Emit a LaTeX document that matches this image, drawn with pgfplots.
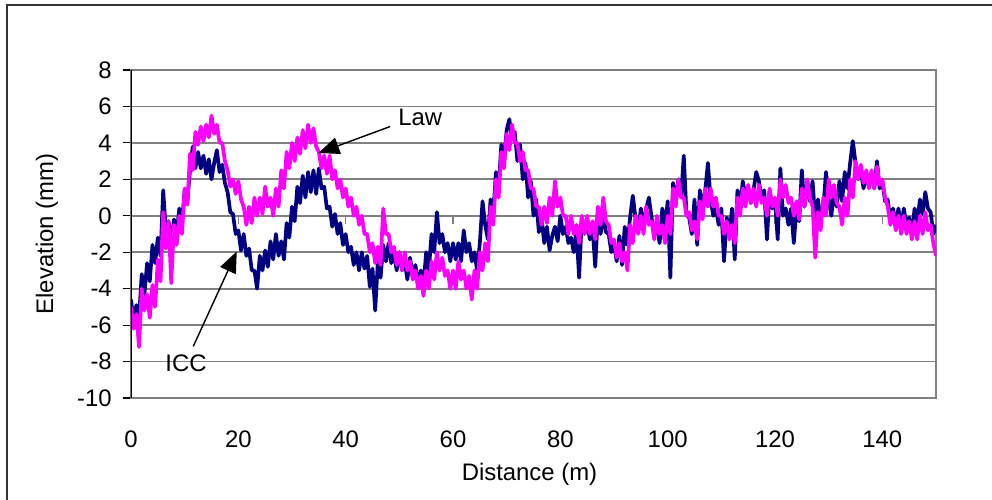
\documentclass[border=0pt]{standalone}
\usepackage{fontspec}
\setmainfont{Liberation Sans}
\usepackage{pgfplots}
\pgfplotsset{compat=1.18}
\usetikzlibrary{arrows.meta}
\definecolor{iccNavy}{HTML}{000080}
\definecolor{lawMag}{HTML}{FF00FF}
\definecolor{gridGray}{HTML}{808080}
\newcommand{\chfont}{\fontsize{13.6}{16}\selectfont}

\begin{document}
\begin{tikzpicture}
\useasboundingbox (-2.62,-2.02) rectangle (17.22,7.96);
\draw[black!80, line width=0.6pt] (-2.48,-3) rectangle (18,7.86);
\begin{axis}[
  width=16.1cm, height=6.56cm, scale only axis,
  xmin=0, xmax=150, ymin=-10, ymax=8,
  xtick={0,20,...,140}, ytick={-10,-8,...,8},
  xmajorgrids=false, ymajorgrids=true,
  grid style={gridGray, line width=1pt},
  axis line style={gridGray, line width=1pt},
  x tick style={draw=none},
  y tick style={black, line width=0.6pt},
  ytick pos=left, xtick pos=bottom,
  tick align=outside, major tick length=0.16cm,
  /pgf/number format/assume math mode=true,
  ticklabel style={font=\chfont},
  yticklabel style={xshift=-0.1cm},
  xticklabel style={yshift=-0.38cm},
  label style={font=\chfont},
  xlabel={Distance (m)}, ylabel={Elevation (mm)},
  xlabel style={at={(axis description cs:0.495,-0.2317)}, anchor=center},
  ylabel style={at={(axis description cs:-0.1043,0.5)}, anchor=center},
]
\draw[gridGray, line width=0.6pt]
  (axis cs:20,0) -- (axis cs:20,-0.45)
  (axis cs:40,0) -- (axis cs:40,-0.45)
  (axis cs:60,0) -- (axis cs:60,-0.45)
  (axis cs:80,0) -- (axis cs:80,-0.45)
  (axis cs:100,0) -- (axis cs:100,-0.45)
  (axis cs:120,0) -- (axis cs:120,-0.45)
  (axis cs:140,0) -- (axis cs:140,-0.45);
% ICC
\addplot[iccNavy, line width=2.1pt, line join=round] coordinates {
(0,-4.6)(0.5,-5.8)(1,-4.9)(1.5,-5.6)(2,-3.2)(2.5,-4.3)(3,-2.6)(3.5,-3.6)(4,-1.6)(4.5,-2.6)
(5,-1.2)(5.5,-2.2)(6,1.4)(6.5,-0.9)(7,-0.3)(7.5,-1.5)(8,-0.2)(8.5,-1.0)(9,0.4)(9.5,-0.4)
(10,1.4)(10.5,0.8)(11,2.5)(11.5,3.8)(12,2.6)(12.5,3.5)(13,2.6)(13.5,3.3)(14,2.3)(14.5,3.1)
(15,2.0)(15.5,2.9)(16,3.6)(16.5,2.4)(17,2.8)(17.5,1.8)(18,1.3)(18.5,0.2)(19,0.1)(19.5,-1.0)
(20,-0.8)(20.5,-1.9)(21,-1.0)(21.5,-2.2)(22,-1.8)(22.5,-3.0)(23,-3.0)(23.5,-4.0)(24,-2.2)(24.5,-3.0)
(25,-1.9)(25.5,-2.8)(26,-1.4)(26.5,-2.4)(27,-1.0)(27.5,-2.2)(28,-1.4)(28.5,-2.4)(29,-0.4)(29.5,-1.2)
(30,0.5)(30.5,-0.3)(31,1.6)(31.5,0.7)(32,2.2)(32.5,1.0)(33,2.4)(33.5,1.3)(34,2.5)(34.5,1.2)
(35,2.6)(35.5,1.5)(36,1.6)(36.5,0.4)(37,0.5)(37.5,-0.6)(38,0.1)(38.5,-1.0)(39,-0.4)(39.5,-1.6)
(40,-1.0)(40.5,-2.0)(41,-1.7)(41.5,-2.7)(42,-2.0)(42.5,-3.0)(43,-2.0)(43.5,-2.9)(44,-2.2)(44.5,-3.9)
(45,-2.9)(45.5,-5.2)(46,-2.5)(46.5,-3.4)(47,-1.6)(47.5,-2.5)(48,-1.5)(48.5,-2.6)(49,-2.0)(49.5,-3.0)
(50,-2.0)(50.5,-3.0)(51,-2.5)(51.5,-3.5)(52,-2.3)(52.5,-3.3)(53,-2.7)(53.5,-3.8)(54,-3.0)(54.5,-3.8)
(55,-2.0)(55.5,-3.0)(56,-1.0)(56.5,-2.0)(57,0.2)(57.5,-1.5)(58,-1.0)(58.5,-2.0)(59,-1.5)(59.5,-2.5)
(60,-1.5)(60.5,-2.4)(61,-1.5)(61.5,-2.5)(62,-0.8)(62.5,-2.0)(63,-1.5)(63.5,-2.5)(64,-2.0)(64.5,-3.0)
(65,-1.5)(65.5,0.8)(66,-0.5)(66.5,-1.3)(67,0.9)(67.5,0.1)(68,2.4)(68.5,1.5)(69,3.9)(69.5,3.0)
(70,4.7)(70.5,5.3)(71,4.2)(71.5,4.6)(72,3.0)(72.5,3.9)(73,2.0)(73.5,2.9)(74,1.0)(74.5,1.9)
(75,0.0)(75.5,0.9)(76,-0.9)(76.5,-0.1)(77,-1.5)(77.5,-0.6)(78,-1.9)(78.5,-1.1)(79,-0.6)(79.5,-1.4)
(80,0.0)(80.5,-1.0)(81,-0.6)(81.5,-1.5)(82,-1.2)(82.5,-2.0)(83,-0.8)(83.5,-3.4)(84,-0.1)(84.5,-1.0)
(85,-0.4)(85.5,-1.3)(86,-0.6)(86.5,-2.8)(87,0.0)(87.5,-1.0)(88,0.0)(88.5,-0.9)(89,-1.0)(89.5,-2.0)
(90,-1.6)(90.5,-2.5)(91,-1.1)(91.5,-2.7)(92,-0.6)(92.5,-1.6)(93,-0.1)(93.5,1.1)(94,-0.1)(94.5,-0.9)
(95,0.4)(95.5,-0.5)(96,0.4)(96.5,1.0)(97,-0.1)(97.5,-1.0)(98,-0.6)(98.5,-1.5)(99,0.4)(99.5,-0.6)
(100,0.8)(100.5,-3.4)(101,1.8)(101.5,0.9)(102,2.0)(102.5,1.0)(103,3.3)(103.5,0.1)(104,-0.1)(104.5,-1.0)
(105,0.9)(105.5,-1.6)(106,1.4)(106.5,0.5)(107,1.4)(107.5,2.9)(108,0.9)(108.5,0.0)(109,0.4)(109.5,-0.5)
(110,0.4)(110.5,-2.5)(111,-0.1)(111.5,-1.0)(112,0.4)(112.5,-2.4)(113,1.4)(113.5,0.5)(114,1.9)(114.5,1.0)
(115,1.6)(115.5,0.7)(116,1.4)(116.5,2.4)(117,1.9)(117.5,1.0)(118,1.4)(118.5,-1.3)(119,1.4)(119.5,0.4)
(120,0.9)(120.5,-1.3)(121,2.6)(121.5,0.0)(122,0.4)(122.5,-0.5)(123,0.4)(123.5,-1.5)(124,0.4)(124.5,-0.3)
(125,2.5)(125.5,0.5)(126,1.9)(126.5,0.8)(127,1.9)(127.5,-0.2)(128,0.9)(128.5,-0.2)(129,0.4)(129.5,2.4)
(130,0.9)(130.5,0.0)(131,1.4)(131.5,0.5)(132,1.9)(132.5,0.8)(133,2.4)(133.5,1.5)(134,2.9)(134.5,4.1)
(135,2.9)(135.5,2.0)(136,2.4)(136.5,1.5)(137,2.4)(137.5,1.6)(138,2.4)(138.5,1.5)(139,3.0)(139.5,1.5)
(140,1.9)(140.5,0.8)(141,0.9)(141.5,-0.3)(142,0.4)(142.5,-0.5)(143,0.4)(143.5,-0.6)(144,0.4)(144.5,-0.5)
(145,-0.1)(145.5,-1.1)(146,0.4)(146.5,-0.4)(147,0.9)(147.5,0.1)(148,1.3)(148.5,0.4)(149,0.2)(149.5,-1.0)
(150,-0.5)
};
% Law
\addplot[lawMag, line width=2.1pt, line join=round] coordinates {
(0,-5.0)(0.5,-6.2)(1,-5.4)(1.5,-7.2)(2,-4.0)(2.5,-5.2)(3,-4.3)(3.5,-5.6)(4,-3.8)(4.5,-5.0)
(5,-2.4)(5.5,-3.6)(6,0.2)(6.5,-1.8)(7,-0.3)(7.5,-3.7)(8,-0.5)(8.5,-1.6)(9,0.0)(9.5,-1.0)
(10,1.5)(10.5,0.6)(11,3.4)(11.5,2.5)(12,4.6)(12.5,3.9)(13,4.9)(13.5,4.1)(14,5.0)(14.5,4.3)
(15,5.5)(15.5,4.5)(16,5.0)(16.5,4.0)(17,4.0)(17.5,3.0)(18,2.5)(18.5,1.6)(19,2.0)(19.5,1.2)
(20,1.9)(20.5,0.9)(21,0.5)(21.5,-0.5)(22,0.5)(22.5,-0.4)(23,1.0)(23.5,0.0)(24,1.0)(24.5,0.1)
(25,1.6)(25.5,0.5)(26,1.0)(26.5,0.0)(27,1.5)(27.5,0.5)(28,2.5)(28.5,1.5)(29,3.5)(29.5,2.6)
(30,4.0)(30.5,3.0)(31,4.3)(31.5,3.4)(32,4.7)(32.5,3.7)(33,5.0)(33.5,4.0)(34,4.8)(34.5,3.8)
(35,3.5)(35.5,2.6)(36,3.3)(36.5,2.3)(37,3.3)(37.5,2.0)(38,2.5)(38.5,1.5)(39,2.0)(39.5,1.0)
(40,1.5)(40.5,0.5)(41,1.0)(41.5,0.0)(42,0.5)(42.5,-0.5)(43,0.0)(43.5,-1.0)(44,-1.0)(44.5,-2.0)
(45,-1.5)(45.5,-2.6)(46,-1.7)(46.5,-2.7)(47,0.4)(47.5,-1.0)(48,-1.0)(48.5,-2.0)(49,-1.7)(49.5,-2.7)
(50,-2.0)(50.5,-3.0)(51,-2.0)(51.5,-3.0)(52,-2.5)(52.5,-3.5)(53,-3.0)(53.5,-4.0)(54,-3.3)(54.5,-4.4)
(55,-3.0)(55.5,-4.0)(56,-2.5)(56.5,-3.5)(57,-2.0)(57.5,-3.0)(58,-2.3)(58.5,-3.3)(59,-3.0)(59.5,-4.0)
(60,-3.0)(60.5,-4.0)(61,-2.5)(61.5,-3.5)(62,-3.0)(62.5,-4.0)(63,-3.3)(63.5,-4.6)(64,-3.0)(64.5,-4.0)
(65,-2.0)(65.5,-3.0)(66,-1.5)(66.5,-2.5)(67,0.5)(67.5,-0.5)(68,2.0)(68.5,1.0)(69,3.5)(69.5,2.6)
(70,4.5)(70.5,3.6)(71,5.0)(71.5,4.0)(72,4.0)(72.5,3.0)(73,3.5)(73.5,2.5)(74,2.5)(74.5,1.5)
(75,1.5)(75.5,0.5)(76,0.5)(76.5,-0.5)(77,0.5)(77.5,-0.4)(78,1.0)(78.5,0.0)(79,1.9)(79.5,0.5)
(80,1.0)(80.5,0.0)(81,0.0)(81.5,-1.0)(82,0.0)(82.5,-1.0)(83,-0.5)(83.5,-1.5)(84,0.0)(84.5,-1.0)
(85,0.0)(85.5,-1.0)(86,-0.3)(86.5,-1.3)(87,0.5)(87.5,-0.5)(88,1.0)(88.5,-0.3)(89,-0.5)(89.5,-1.5)
(90,-1.3)(90.5,-2.3)(91,-1.5)(91.5,-2.5)(92,-2.0)(92.5,-3.0)(93,-0.5)(93.5,-1.5)(94,0.0)(94.5,-1.0)
(95,0.0)(95.5,-1.0)(96,0.5)(96.5,-0.5)(97,-0.3)(97.5,-1.3)(98,0.0)(98.5,-1.0)(99,-0.5)(99.5,-1.5)
(100,0.0)(100.5,-1.0)(101,1.5)(101.5,0.5)(102,2.0)(102.5,1.0)(103,1.0)(103.5,0.0)(104,0.2)(104.5,-0.8)
(105,-0.3)(105.5,-1.3)(106,0.8)(106.5,-0.2)(107,1.5)(107.5,0.5)(108,1.5)(108.5,0.5)(109,1.0)(109.5,0.0)
(110,0.0)(110.5,-1.0)(111,-0.3)(111.5,-1.3)(112,-0.5)(112.5,-1.5)(113,1.0)(113.5,0.0)(114,1.5)(114.5,0.5)
(115,1.7)(115.5,0.7)(116,1.5)(116.5,0.5)(117,1.7)(117.5,0.7)(118,1.0)(118.5,0.0)(119,1.5)(119.5,0.5)
(120,1.0)(120.5,0.0)(121,2.0)(121.5,1.0)(122,1.7)(122.5,0.7)(123,1.0)(123.5,0.0)(124,0.8)(124.5,-0.2)
(125,1.5)(125.5,0.5)(126,2.0)(126.5,1.0)(127,0.5)(127.5,-2.3)(128,0.2)(128.5,-0.8)(129,1.0)(129.5,0.0)
(130,2.0)(130.5,1.0)(131,1.7)(131.5,0.7)(132,0.5)(132.5,-0.5)(133,1.0)(133.5,0.0)(134,2.0)(134.5,1.0)
(135,3.0)(135.5,2.0)(136,2.8)(136.5,1.8)(137,2.5)(137.5,1.5)(138,2.5)(138.5,1.5)(139,2.7)(139.5,1.7)
(140,2.0)(140.5,1.0)(141,0.5)(141.5,-0.5)(142,0.2)(142.5,-0.8)(143,0.0)(143.5,-1.0)(144,0.0)(144.5,-1.0)
(145,-0.3)(145.5,-1.3)(146,-0.3)(146.5,-1.3)(147,0.0)(147.5,-1.0)(148,0.2)(148.5,-0.8)(149,-0.5)(149.5,-1.5)
(150,-2.2)
};
\draw[black, line width=0.7pt] (axis cs:0,-10) -- (axis cs:0,8);
\draw[black, line width=0.8pt, -{Triangle[length=0.42cm, width=0.34cm]}]
  (axis cs:48.3,4.9) -- (axis cs:34.9,3.44);
\node[font=\chfont] at (axis cs:53.9,5.4) {Law};
\draw[black, line width=0.8pt, -{Triangle[length=0.42cm, width=0.34cm]}]
  (axis cs:11.6,-7.17) -- (axis cs:19.7,-1.96);
\node[font=\chfont] at (axis cs:10.25,-8.12) {ICC};
\end{axis}
\end{tikzpicture}
\end{document}
